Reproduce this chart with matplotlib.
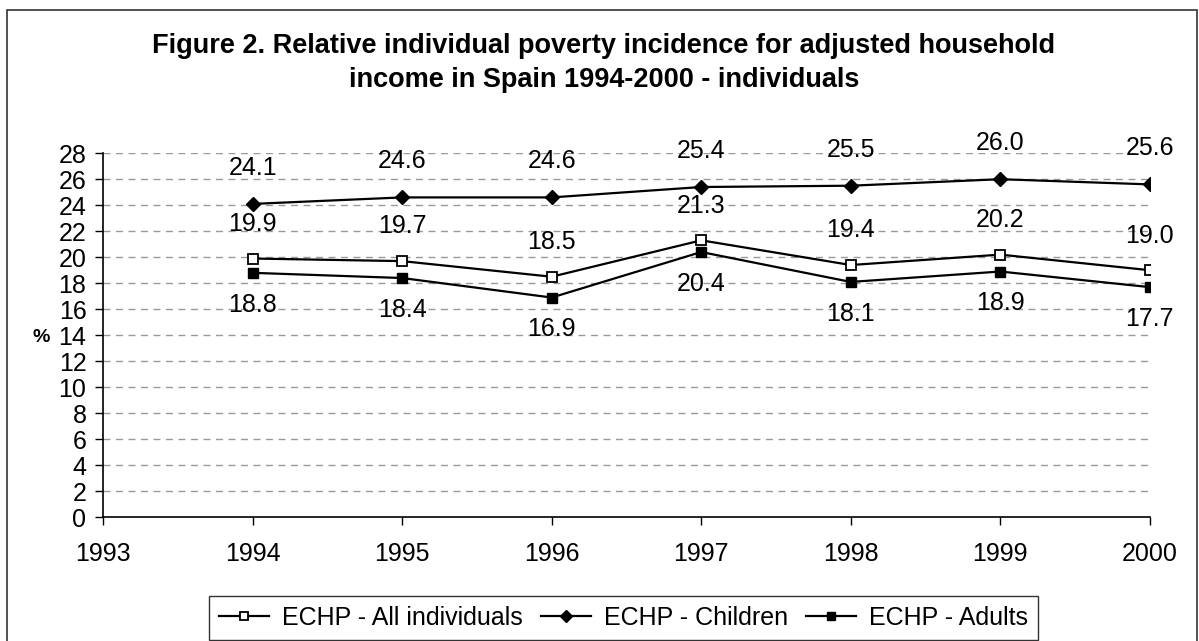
import matplotlib
matplotlib.use("Agg")
import matplotlib.pyplot as plt
from matplotlib.patches import Rectangle

plt.rcParams["font.family"] = ["Liberation Sans", "DejaVu Sans"]

years = [1994, 1995, 1996, 1997, 1998, 1999, 2000]
all_individuals = [19.9, 19.7, 18.5, 21.3, 19.4, 20.2, 19.0]
children = [24.1, 24.6, 24.6, 25.4, 25.5, 26.0, 25.6]
adults = [18.8, 18.4, 16.9, 20.4, 18.1, 18.9, 17.7]

fig = plt.figure(figsize=(11.99, 6.41), dpi=100)
ax = fig.add_axes([0.086, 0.193, 0.873, 0.568])

ax.plot(years, all_individuals, color="black", lw=1.6, marker="s", ms=7,
        mfc="white", mec="black", mew=1.3, label="ECHP - All individuals")
ax.plot(years, children, color="black", lw=1.6, marker="D", ms=7,
        mfc="black", mec="black", label="ECHP - Children")
ax.plot(years, adults, color="black", lw=1.6, marker="s", ms=7,
        mfc="black", mec="black", label="ECHP - Adults")

# value labels: above for children and all individuals, below for adults
for x, v in zip(years, children):
    ax.annotate(f"{v:.1f}", (x, v), xytext=(0, 26), textcoords="offset points",
                ha="center", va="center", fontsize=18)
for x, v in zip(years, all_individuals):
    ax.annotate(f"{v:.1f}", (x, v), xytext=(0, 25), textcoords="offset points",
                ha="center", va="center", fontsize=18)
for x, v in zip(years, adults):
    ax.annotate(f"{v:.1f}", (x, v), xytext=(0, -23), textcoords="offset points",
                ha="center", va="center", fontsize=18)

ax.set_xlim(1993, 2000)
ax.set_ylim(0, 28)
ax.set_xticks(range(1993, 2001))
ax.set_yticks(range(0, 29, 2))
ax.tick_params(axis="both", labelsize=18, length=6, width=1, color="black",
               direction="out")
ax.tick_params(axis="x", pad=12)
ax.tick_params(axis="y", pad=6)

for y in range(2, 29, 2):
    ax.axhline(y, color="#999999", lw=1, ls=(0, (5, 4)), zorder=0)

ax.spines["top"].set_visible(False)
ax.spines["right"].set_visible(False)
ax.spines["left"].set_linewidth(1.2)
ax.spines["bottom"].set_linewidth(1.2)

fig.text(0.034, 1 - 337 / 641, "%", fontsize=14, fontweight="bold",
         ha="center", va="center")

fig.text(0.5035, 1 - 63 / 641,
         "Figure 2. Relative individual poverty incidence for adjusted household\n"
         "income in Spain 1994-2000 - individuals",
         ha="center", va="center", fontsize=19.5, fontweight="bold",
         linespacing=1.38)

leg = fig.legend(loc="center", bbox_to_anchor=(0.52, 1 - 618 / 641), ncol=3,
                 fontsize=18, frameon=True, fancybox=False, edgecolor="black",
                 handlelength=2.0, handletextpad=0.5, columnspacing=0.75,
                 borderpad=0.4, borderaxespad=0, markerscale=0.85)
leg.get_frame().set_linewidth(1)

# outer frame around the whole chart
fig.patches.append(Rectangle((7 / 1199, -0.02), 1190 / 1199, 1.02 - 10 / 641,
                             transform=fig.transFigure, fill=False,
                             edgecolor="#333333", lw=1.2, clip_on=False))

fig.savefig("out.png", dpi=100)
